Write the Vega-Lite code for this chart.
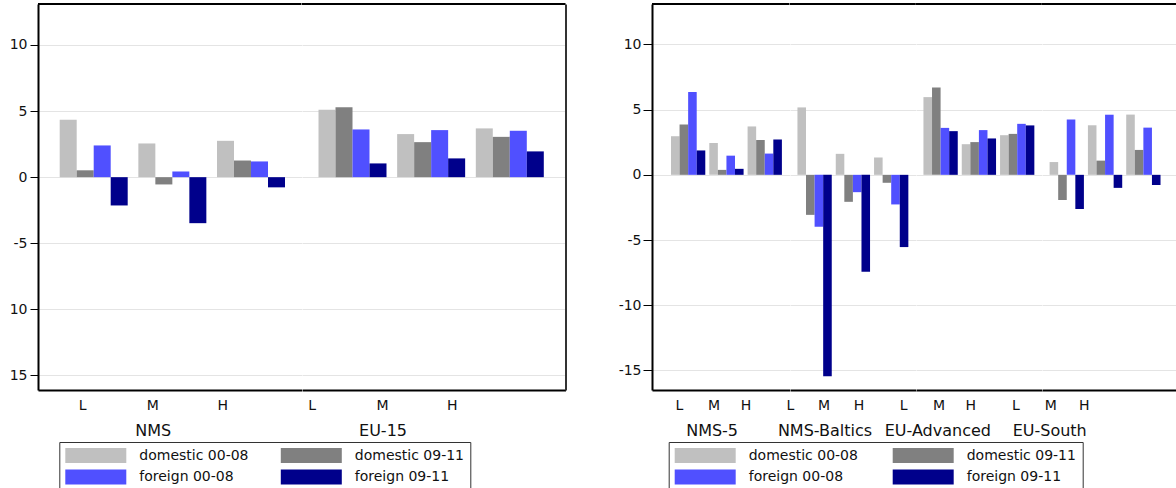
{
  "$schema": "https://vega.github.io/schema/vega-lite/v6.json",
  "padding": {"left": 8, "top": 2, "right": 0, "bottom": 0},
  "background": "white",
  "config": {
    "view": {"stroke": "#ffffff", "strokeWidth": 1},
    "font": "DejaVu Sans",
    "axis": {"domain": false, "labelFont": "DejaVu Sans", "titleFont": "DejaVu Sans", "labelColor": "#111", "titleColor": "#111", "gridColor": "#e4e4e4", "gridWidth": 1.2},
    "axisX": {"grid": false},
    "legend": {"labelFont": "DejaVu Sans"}
  },
  "datasets": {
    "rows": [
      {"region": "NMS", "skill": "L", "series": "domestic 00-08", "value": 4.35},
      {"region": "NMS", "skill": "L", "series": "domestic 09-11", "value": 0.52},
      {"region": "NMS", "skill": "L", "series": "foreign 00-08", "value": 2.4},
      {"region": "NMS", "skill": "L", "series": "foreign 09-11", "value": -2.14},
      {"region": "NMS", "skill": "M", "series": "domestic 00-08", "value": 2.55},
      {"region": "NMS", "skill": "M", "series": "domestic 09-11", "value": -0.55},
      {"region": "NMS", "skill": "M", "series": "foreign 00-08", "value": 0.43},
      {"region": "NMS", "skill": "M", "series": "foreign 09-11", "value": -3.48},
      {"region": "NMS", "skill": "H", "series": "domestic 00-08", "value": 2.75},
      {"region": "NMS", "skill": "H", "series": "domestic 09-11", "value": 1.26},
      {"region": "NMS", "skill": "H", "series": "foreign 00-08", "value": 1.19},
      {"region": "NMS", "skill": "H", "series": "foreign 09-11", "value": -0.77},
      {"region": "EU-15", "skill": "L", "series": "domestic 00-08", "value": 5.1},
      {"region": "EU-15", "skill": "L", "series": "domestic 09-11", "value": 5.28},
      {"region": "EU-15", "skill": "L", "series": "foreign 00-08", "value": 3.61},
      {"region": "EU-15", "skill": "L", "series": "foreign 09-11", "value": 1.04},
      {"region": "EU-15", "skill": "M", "series": "domestic 00-08", "value": 3.26},
      {"region": "EU-15", "skill": "M", "series": "domestic 09-11", "value": 2.65},
      {"region": "EU-15", "skill": "M", "series": "foreign 00-08", "value": 3.56},
      {"region": "EU-15", "skill": "M", "series": "foreign 09-11", "value": 1.42},
      {"region": "EU-15", "skill": "H", "series": "domestic 00-08", "value": 3.69},
      {"region": "EU-15", "skill": "H", "series": "domestic 09-11", "value": 3.05},
      {"region": "EU-15", "skill": "H", "series": "foreign 00-08", "value": 3.51},
      {"region": "EU-15", "skill": "H", "series": "foreign 09-11", "value": 1.95},
      {"region": "NMS-5", "skill": "L", "series": "domestic 00-08", "value": 2.96},
      {"region": "NMS-5", "skill": "L", "series": "domestic 09-11", "value": 3.86},
      {"region": "NMS-5", "skill": "L", "series": "foreign 00-08", "value": 6.35},
      {"region": "NMS-5", "skill": "L", "series": "foreign 09-11", "value": 1.87},
      {"region": "NMS-5", "skill": "M", "series": "domestic 00-08", "value": 2.45},
      {"region": "NMS-5", "skill": "M", "series": "domestic 09-11", "value": 0.38},
      {"region": "NMS-5", "skill": "M", "series": "foreign 00-08", "value": 1.47},
      {"region": "NMS-5", "skill": "M", "series": "foreign 09-11", "value": 0.46},
      {"region": "NMS-5", "skill": "H", "series": "domestic 00-08", "value": 3.71},
      {"region": "NMS-5", "skill": "H", "series": "domestic 09-11", "value": 2.67},
      {"region": "NMS-5", "skill": "H", "series": "foreign 00-08", "value": 1.63},
      {"region": "NMS-5", "skill": "H", "series": "foreign 09-11", "value": 2.71},
      {"region": "NMS-Baltics", "skill": "L", "series": "domestic 00-08", "value": 5.17},
      {"region": "NMS-Baltics", "skill": "L", "series": "domestic 09-11", "value": -3.07},
      {"region": "NMS-Baltics", "skill": "L", "series": "foreign 00-08", "value": -3.99},
      {"region": "NMS-Baltics", "skill": "L", "series": "foreign 09-11", "value": -15.44},
      {"region": "NMS-Baltics", "skill": "M", "series": "domestic 00-08", "value": 1.61},
      {"region": "NMS-Baltics", "skill": "M", "series": "domestic 09-11", "value": -2.07},
      {"region": "NMS-Baltics", "skill": "M", "series": "foreign 00-08", "value": -1.33},
      {"region": "NMS-Baltics", "skill": "M", "series": "foreign 09-11", "value": -7.44},
      {"region": "NMS-Baltics", "skill": "H", "series": "domestic 00-08", "value": 1.33},
      {"region": "NMS-Baltics", "skill": "H", "series": "domestic 09-11", "value": -0.61},
      {"region": "NMS-Baltics", "skill": "H", "series": "foreign 00-08", "value": -2.27},
      {"region": "NMS-Baltics", "skill": "H", "series": "foreign 09-11", "value": -5.54},
      {"region": "EU-Advanced", "skill": "L", "series": "domestic 00-08", "value": 5.96},
      {"region": "EU-Advanced", "skill": "L", "series": "domestic 09-11", "value": 6.7},
      {"region": "EU-Advanced", "skill": "L", "series": "foreign 00-08", "value": 3.6},
      {"region": "EU-Advanced", "skill": "L", "series": "foreign 09-11", "value": 3.35},
      {"region": "EU-Advanced", "skill": "M", "series": "domestic 00-08", "value": 2.35},
      {"region": "EU-Advanced", "skill": "M", "series": "domestic 09-11", "value": 2.51},
      {"region": "EU-Advanced", "skill": "M", "series": "foreign 00-08", "value": 3.43},
      {"region": "EU-Advanced", "skill": "M", "series": "foreign 09-11", "value": 2.79},
      {"region": "EU-Advanced", "skill": "H", "series": "domestic 00-08", "value": 3.04},
      {"region": "EU-Advanced", "skill": "H", "series": "domestic 09-11", "value": 3.14},
      {"region": "EU-Advanced", "skill": "H", "series": "foreign 00-08", "value": 3.91},
      {"region": "EU-Advanced", "skill": "H", "series": "foreign 09-11", "value": 3.79},
      {"region": "EU-South", "skill": "L", "series": "domestic 00-08", "value": 0.98},
      {"region": "EU-South", "skill": "L", "series": "domestic 09-11", "value": -1.93},
      {"region": "EU-South", "skill": "L", "series": "foreign 00-08", "value": 4.24},
      {"region": "EU-South", "skill": "L", "series": "foreign 09-11", "value": -2.62},
      {"region": "EU-South", "skill": "M", "series": "domestic 00-08", "value": 3.8},
      {"region": "EU-South", "skill": "M", "series": "domestic 09-11", "value": 1.09},
      {"region": "EU-South", "skill": "M", "series": "foreign 00-08", "value": 4.61},
      {"region": "EU-South", "skill": "M", "series": "foreign 09-11", "value": -1.0},
      {"region": "EU-South", "skill": "H", "series": "domestic 00-08", "value": 4.62},
      {"region": "EU-South", "skill": "H", "series": "domestic 09-11", "value": 1.91},
      {"region": "EU-South", "skill": "H", "series": "foreign 00-08", "value": 3.62},
      {"region": "EU-South", "skill": "H", "series": "foreign 09-11", "value": -0.78}
    ]
  },
  "resolve": {"scale": {"x": "independent", "xOffset": "independent", "y": "independent"}, "legend": {"color": "independent"}},
  "spacing": 50,
  "hconcat": [
    {
      "spacing": 0,
      "bounds": "flush",
      "resolve": {"scale": {"x": "independent", "xOffset": "independent", "y": "independent"}},
      "hconcat": [
        {
          "width": 263.5, "height": 386,
          "layer": [
            {
              "data": {"name": "rows"},
              "transform": [{"filter": "datum.region === 'NMS'"}],
              "mark": {"type": "bar"},
              "encoding": {
                "x": {"field": "skill", "type": "nominal", "sort": ["L", "M", "H"],
                  "scale": {"paddingInner": 0.1354, "paddingOuter": 0.2429, "align": 0.568},
                  "axis": {"orient": "bottom", "domain": true, "domainColor": "#000", "domainWidth": 2, "ticks": false, "tickSize": 0, "labelAngle": 0, "labelFontSize": 14, "labelPadding": 8.3,
                    "labelOffset": {"condition": [{"test": "datum.value === 'L'", "value": -11}, {"test": "datum.value === 'M'", "value": -19.6}], "value": -28.3},
                    "title": "NMS", "titleFontSize": 16, "titleFontWeight": "normal", "titleBaseline": "alphabetic", "titleAlign": "center", "titleX": 114.7, "titleY": 45.2}},
                "xOffset": {"field": "series", "type": "nominal", "sort": ["domestic 00-08", "domestic 09-11", "foreign 00-08", "foreign 09-11"], "scale": {"paddingInner": 0, "paddingOuter": 0}},
                "y": {"field": "value", "type": "quantitative", "scale": {"domain": [-16.1, 13.1], "nice": false, "zero": false},
                  "axis": {"values": [-15, -10, -5, 0, 5, 10], "grid": true, "domain": true, "domainColor": "#000", "domainWidth": 2, "ticks": true, "tickSize": 8, "tickColor": "#000", "tickWidth": 1, "labelPadding": 3, "labelFontSize": 14,
                    "labelExpr": "datum.value <= -10 ? '' + abs(datum.value) : datum.value < 0 ? '-' + abs(datum.value) : '' + datum.value", "title": null}},
                "color": {"field": "series", "type": "nominal",
                  "scale": {"domain": ["domestic 00-08", "domestic 09-11", "foreign 00-08", "foreign 09-11"], "range": ["#c0c0c0", "#808080", "#5050ff", "#00008b"]},
                  "legend": {"orient": "none", "legendX": 21.3, "legendY": 438, "columns": 2, "direction": "horizontal", "title": null,
                    "symbolType": "M-1,-1H7.133V1H-1Z", "symbolSize": 225, "symbolStrokeWidth": 0, "symbolOpacity": 1,
                    "labelFontSize": 14, "labelColor": "#111", "labelOffset": 59, "labelLimit": 300, "columnPadding": 31.5, "rowPadding": 6.6, "padding": 6, "strokeColor": "#333"}}
              }
            },
            {
              "data": {"values": [{}]},
              "mark": {"type": "rule", "color": "#000", "strokeWidth": 2},
              "encoding": {"y": {"datum": 13.1, "type": "quantitative",
                "axis": {"values": [-15, -10, -5, 0, 5, 10], "grid": true, "domain": true, "domainColor": "#000", "domainWidth": 2, "ticks": true, "tickSize": 8, "tickColor": "#000", "tickWidth": 1, "labelPadding": 3, "labelFontSize": 14,
                  "labelExpr": "datum.value <= -10 ? '' + abs(datum.value) : datum.value < 0 ? '-' + abs(datum.value) : '' + datum.value", "title": null}}}
            }
          ]
        },
        {
          "width": 263.5, "height": 386,
          "layer": [
            {
              "data": {"name": "rows"},
              "transform": [{"filter": "datum.region === 'EU-15'"}],
              "mark": {"type": "bar"},
              "encoding": {
                "x": {"field": "skill", "type": "nominal", "sort": ["L", "M", "H"],
                  "scale": {"paddingInner": 0.1354, "paddingOuter": 0.2429, "align": 0.432},
                  "axis": {"orient": "bottom", "domain": true, "domainColor": "#000", "domainWidth": 2, "ticks": false, "tickSize": 0, "labelAngle": 0, "labelFontSize": 14, "labelPadding": 8.3,
                    "labelOffset": {"condition": [{"test": "datum.value === 'L'", "value": -40.3}, {"test": "datum.value === 'M'", "value": -48.7}], "value": -57.6},
                    "title": "EU-15", "titleFontSize": 16, "titleFontWeight": "normal", "titleBaseline": "alphabetic", "titleAlign": "center", "titleX": 80.5, "titleY": 45.2}},
                "xOffset": {"field": "series", "type": "nominal", "sort": ["domestic 00-08", "domestic 09-11", "foreign 00-08", "foreign 09-11"], "scale": {"paddingInner": 0, "paddingOuter": 0}},
                "y": {"field": "value", "type": "quantitative", "scale": {"domain": [-16.1, 13.1], "nice": false, "zero": false},
                  "axis": {"orient": "right", "values": [-15, -10, -5, 0, 5, 10], "grid": true, "domain": true, "domainColor": "#333", "domainWidth": 2, "ticks": false, "labels": false, "title": null}},
                "color": {"field": "series", "type": "nominal",
                  "scale": {"domain": ["domestic 00-08", "domestic 09-11", "foreign 00-08", "foreign 09-11"], "range": ["#c0c0c0", "#808080", "#5050ff", "#00008b"]},
                  "legend": {"orient": "none", "legendX": 21.3, "legendY": 438, "columns": 2, "direction": "horizontal", "title": null,
                    "symbolType": "M-1,-1H7.133V1H-1Z", "symbolSize": 225, "symbolStrokeWidth": 0, "symbolOpacity": 1,
                    "labelFontSize": 14, "labelColor": "#111", "labelOffset": 59, "labelLimit": 300, "columnPadding": 31.5, "rowPadding": 6.6, "padding": 6, "strokeColor": "#333"}}
              }
            },
            {
              "data": {"values": [{}]},
              "mark": {"type": "rule", "color": "#000", "strokeWidth": 2},
              "encoding": {"y": {"datum": 13.1, "type": "quantitative",
                "axis": {"orient": "right", "values": [-15, -10, -5, 0, 5, 10], "grid": true, "domain": true, "domainColor": "#333", "domainWidth": 2, "ticks": false, "labels": false, "title": null}}}
            }
          ]
        }
      ]
    },
    {
      "spacing": 0,
      "bounds": "flush",
      "resolve": {"scale": {"x": "independent", "xOffset": "independent", "y": "independent"}},
      "hconcat": [
        {
          "width": 137.5, "height": 386,
          "layer": [
            {
              "data": {"name": "rows"},
              "transform": [{"filter": "datum.region === 'NMS-5'"}],
              "mark": {"type": "bar"},
              "encoding": {
                "x": {"field": "skill", "type": "nominal", "sort": ["L", "M", "H"],
                  "scale": {"paddingInner": 0.1044, "paddingOuter": 0.347, "align": 0.714},
                  "axis": {"orient": "bottom", "domain": true, "domainColor": "#000", "domainWidth": 2, "ticks": false, "tickSize": 0, "labelAngle": 0, "labelFontSize": 14, "labelPadding": 8.3,
                    "labelOffset": {"condition": [{"test": "datum.value === 'L'", "value": -8.85}, {"test": "datum.value === 'M'", "value": -12.45}], "value": -18.75},
                    "title": "NMS-5", "titleFontSize": 16, "titleFontWeight": "normal", "titleBaseline": "alphabetic", "titleAlign": "center", "titleX": 59.6, "titleY": 45.2}},
                "xOffset": {"field": "series", "type": "nominal", "sort": ["domestic 00-08", "domestic 09-11", "foreign 00-08", "foreign 09-11"], "scale": {"paddingInner": 0, "paddingOuter": 0}},
                "y": {"field": "value", "type": "quantitative", "scale": {"domain": [-16.5, 13.1], "nice": false, "zero": false},
                  "axis": {"values": [-15, -10, -5, 0, 5, 10], "grid": true, "domain": true, "domainColor": "#000", "domainWidth": 2, "ticks": true, "tickSize": 9, "tickColor": "#000", "tickWidth": 1, "labelPadding": 2, "labelFontSize": 14,
                    "labelExpr": "datum.value < 0 ? '-' + abs(datum.value) : '' + datum.value", "title": null}},
                "color": {"field": "series", "type": "nominal",
                  "scale": {"domain": ["domestic 00-08", "domestic 09-11", "foreign 00-08", "foreign 09-11"], "range": ["#c0c0c0", "#808080", "#5050ff", "#00008b"]},
                  "legend": {"orient": "none", "legendX": 16.7, "legendY": 438, "columns": 2, "direction": "horizontal", "title": null,
                    "symbolType": "M-1,-1H7.133V1H-1Z", "symbolSize": 225, "symbolStrokeWidth": 0, "symbolOpacity": 1,
                    "labelFontSize": 14, "labelColor": "#111", "labelOffset": 59, "labelLimit": 300, "columnPadding": 34, "rowPadding": 6.6, "padding": 6, "strokeColor": "#333"}}
              }
            },
            {
              "data": {"values": [{}]},
              "mark": {"type": "rule", "color": "#000", "strokeWidth": 2},
              "encoding": {"y": {"datum": 13.1, "type": "quantitative",
                "axis": {"values": [-15, -10, -5, 0, 5, 10], "grid": true, "domain": true, "domainColor": "#000", "domainWidth": 2, "ticks": true, "tickSize": 9, "tickColor": "#000", "tickWidth": 1, "labelPadding": 2, "labelFontSize": 14,
                  "labelExpr": "datum.value < 0 ? '-' + abs(datum.value) : '' + datum.value", "title": null}}}
            }
          ]
        },
        {
          "width": 125.8, "height": 386,
          "layer": [
            {
              "data": {"name": "rows"},
              "transform": [{"filter": "datum.region === 'NMS-Baltics'"}],
              "mark": {"type": "bar"},
              "encoding": {
                "x": {"field": "skill", "type": "nominal", "sort": ["L", "M", "H"],
                  "scale": {"paddingInner": 0.1044, "paddingOuter": 0.1945, "align": 0.5},
                  "axis": {"orient": "bottom", "domain": true, "domainColor": "#000", "domainWidth": 2, "ticks": false, "tickSize": 0, "labelAngle": 0, "labelFontSize": 14, "labelPadding": 8.3,
                    "labelOffset": {"condition": [{"test": "datum.value === 'L'", "value": -24.15}, {"test": "datum.value === 'M'", "value": -28.85}], "value": -32.15},
                    "title": "NMS-Baltics", "titleFontSize": 16, "titleFontWeight": "normal", "titleBaseline": "alphabetic", "titleAlign": "center", "titleX": 34.5, "titleY": 45.2}},
                "xOffset": {"field": "series", "type": "nominal", "sort": ["domestic 00-08", "domestic 09-11", "foreign 00-08", "foreign 09-11"], "scale": {"paddingInner": 0, "paddingOuter": 0}},
                "y": {"field": "value", "type": "quantitative", "scale": {"domain": [-16.5, 13.1], "nice": false, "zero": false},
                  "axis": {"values": [-15, -10, -5, 0, 5, 10], "grid": true, "domain": false, "ticks": false, "labels": false, "title": null}},
                "color": {"field": "series", "type": "nominal",
                  "scale": {"domain": ["domestic 00-08", "domestic 09-11", "foreign 00-08", "foreign 09-11"], "range": ["#c0c0c0", "#808080", "#5050ff", "#00008b"]},
                  "legend": {"orient": "none", "legendX": 16.7, "legendY": 438, "columns": 2, "direction": "horizontal", "title": null,
                    "symbolType": "M-1,-1H7.133V1H-1Z", "symbolSize": 225, "symbolStrokeWidth": 0, "symbolOpacity": 1,
                    "labelFontSize": 14, "labelColor": "#111", "labelOffset": 59, "labelLimit": 300, "columnPadding": 34, "rowPadding": 6.6, "padding": 6, "strokeColor": "#333"}}
              }
            },
            {
              "data": {"values": [{}]},
              "mark": {"type": "rule", "color": "#000", "strokeWidth": 2},
              "encoding": {"y": {"datum": 13.1, "type": "quantitative",
                "axis": {"values": [-15, -10, -5, 0, 5, 10], "grid": true, "domain": false, "ticks": false, "labels": false, "title": null}}}
            }
          ]
        },
        {
          "width": 125.8, "height": 386,
          "layer": [
            {
              "data": {"name": "rows"},
              "transform": [{"filter": "datum.region === 'EU-Advanced'"}],
              "mark": {"type": "bar"},
              "encoding": {
                "x": {"field": "skill", "type": "nominal", "sort": ["L", "M", "H"],
                  "scale": {"paddingInner": 0.1044, "paddingOuter": 0.1945, "align": 0.5},
                  "axis": {"orient": "bottom", "domain": true, "domainColor": "#000", "domainWidth": 2, "ticks": false, "tickSize": 0, "labelAngle": 0, "labelFontSize": 14, "labelPadding": 8.3,
                    "labelOffset": {"condition": [{"test": "datum.value === 'L'", "value": -36.85}, {"test": "datum.value === 'M'", "value": -39.85}], "value": -46.45},
                    "title": "EU-Advanced", "titleFontSize": 16, "titleFontWeight": "normal", "titleBaseline": "alphabetic", "titleAlign": "center", "titleX": 21.3, "titleY": 45.2}},
                "xOffset": {"field": "series", "type": "nominal", "sort": ["domestic 00-08", "domestic 09-11", "foreign 00-08", "foreign 09-11"], "scale": {"paddingInner": 0, "paddingOuter": 0}},
                "y": {"field": "value", "type": "quantitative", "scale": {"domain": [-16.5, 13.1], "nice": false, "zero": false},
                  "axis": {"values": [-15, -10, -5, 0, 5, 10], "grid": true, "domain": false, "ticks": false, "labels": false, "title": null}},
                "color": {"field": "series", "type": "nominal",
                  "scale": {"domain": ["domestic 00-08", "domestic 09-11", "foreign 00-08", "foreign 09-11"], "range": ["#c0c0c0", "#808080", "#5050ff", "#00008b"]},
                  "legend": {"orient": "none", "legendX": 16.7, "legendY": 438, "columns": 2, "direction": "horizontal", "title": null,
                    "symbolType": "M-1,-1H7.133V1H-1Z", "symbolSize": 225, "symbolStrokeWidth": 0, "symbolOpacity": 1,
                    "labelFontSize": 14, "labelColor": "#111", "labelOffset": 59, "labelLimit": 300, "columnPadding": 34, "rowPadding": 6.6, "padding": 6, "strokeColor": "#333"}}
              }
            },
            {
              "data": {"values": [{}]},
              "mark": {"type": "rule", "color": "#000", "strokeWidth": 2},
              "encoding": {"y": {"datum": 13.1, "type": "quantitative",
                "axis": {"values": [-15, -10, -5, 0, 5, 10], "grid": true, "domain": false, "ticks": false, "labels": false, "title": null}}}
            }
          ]
        },
        {
          "width": 137.5, "height": 386,
          "layer": [
            {
              "data": {"name": "rows"},
              "transform": [{"filter": "datum.region === 'EU-South'"}],
              "mark": {"type": "bar"},
              "encoding": {
                "x": {"field": "skill", "type": "nominal", "sort": ["L", "M", "H"],
                  "scale": {"paddingInner": 0.1044, "paddingOuter": 0.347, "align": 0.286},
                  "axis": {"orient": "bottom", "domain": true, "domainColor": "#000", "domainWidth": 2, "ticks": false, "tickSize": 0, "labelAngle": 0, "labelFontSize": 14, "labelPadding": 8.3,
                    "labelOffset": {"condition": [{"test": "datum.value === 'L'", "value": -50.75}, {"test": "datum.value === 'M'", "value": -54.15}], "value": -59.15},
                    "title": "EU-South", "titleFontSize": 16, "titleFontWeight": "normal", "titleBaseline": "alphabetic", "titleAlign": "center", "titleX": 7.2, "titleY": 45.2}},
                "xOffset": {"field": "series", "type": "nominal", "sort": ["domestic 00-08", "domestic 09-11", "foreign 00-08", "foreign 09-11"], "scale": {"paddingInner": 0, "paddingOuter": 0}},
                "y": {"field": "value", "type": "quantitative", "scale": {"domain": [-16.5, 13.1], "nice": false, "zero": false},
                  "axis": {"orient": "right", "values": [-15, -10, -5, 0, 5, 10], "grid": true, "domain": true, "domainColor": "#444", "domainWidth": 2, "ticks": false, "labels": false, "title": null}},
                "color": {"field": "series", "type": "nominal",
                  "scale": {"domain": ["domestic 00-08", "domestic 09-11", "foreign 00-08", "foreign 09-11"], "range": ["#c0c0c0", "#808080", "#5050ff", "#00008b"]},
                  "legend": {"orient": "none", "legendX": 16.7, "legendY": 438, "columns": 2, "direction": "horizontal", "title": null,
                    "symbolType": "M-1,-1H7.133V1H-1Z", "symbolSize": 225, "symbolStrokeWidth": 0, "symbolOpacity": 1,
                    "labelFontSize": 14, "labelColor": "#111", "labelOffset": 59, "labelLimit": 300, "columnPadding": 34, "rowPadding": 6.6, "padding": 6, "strokeColor": "#333"}}
              }
            },
            {
              "data": {"values": [{}]},
              "mark": {"type": "rule", "color": "#000", "strokeWidth": 2},
              "encoding": {"y": {"datum": 13.1, "type": "quantitative",
                "axis": {"orient": "right", "values": [-15, -10, -5, 0, 5, 10], "grid": true, "domain": true, "domainColor": "#444", "domainWidth": 2, "ticks": false, "labels": false, "title": null}}}
            }
          ]
        }
      ]
    }
  ]
}
